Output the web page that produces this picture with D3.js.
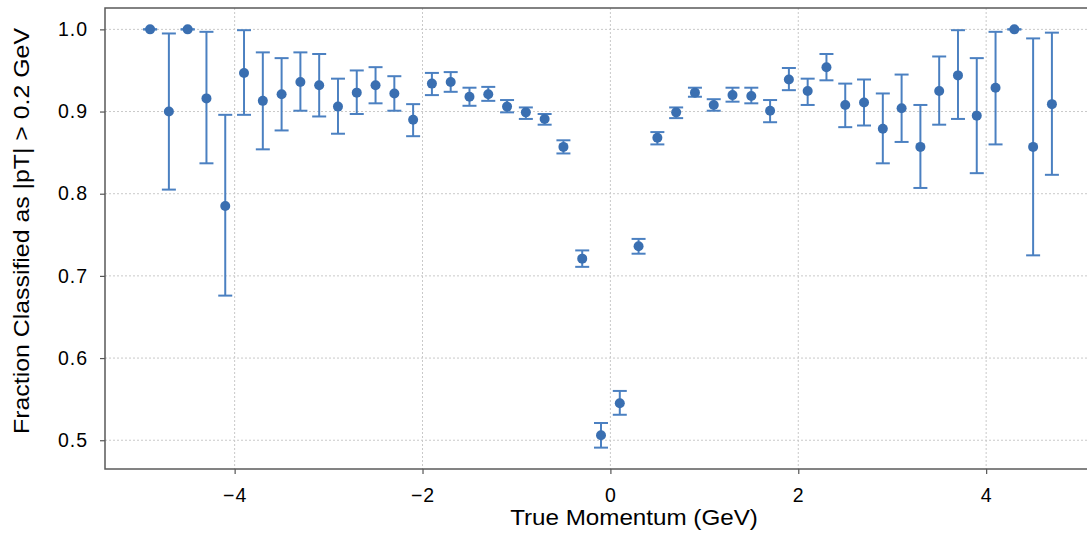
<!DOCTYPE html>
<html>
<head>
<meta charset="utf-8">
<script src="https://cdn.jsdelivr.net/npm/d3@7"></script>
<style>
  html, body { margin: 0; padding: 0; background: #fff; }
  svg { display: block; font-family: "Liberation Sans", Arial, Helvetica, sans-serif; }
</style>
</head>
<body>
<svg id="chart" width="1087" height="534"></svg>
<script>
// ---- data ----
const momentum = [-4.9,-4.7,-4.5,-4.3,-4.1,-3.9,-3.7,-3.5,-3.3,-3.1,-2.9,-2.7,-2.5,-2.3,-2.1,-1.9,-1.7,-1.5,-1.3,-1.1,-0.9,-0.7,-0.5,-0.3,-0.1,
                  0.1,0.3,0.5,0.7,0.9,1.1,1.3,1.5,1.7,1.9,2.1,2.3,2.5,2.7,2.9,3.1,3.3,3.5,3.7,3.9,4.1,4.3,4.5,4.7];
const fraction = [1.000,0.900,1.000,0.916,0.785,0.947,0.913,0.921,0.936,0.932,0.906,0.923,0.932,0.922,0.890,0.934,0.936,0.918,0.921,0.906,0.899,0.891,0.857,0.721,0.506,
                  0.545,0.736,0.868,0.899,0.923,0.908,0.920,0.919,0.901,0.939,0.925,0.954,0.908,0.911,0.879,0.904,0.857,0.925,0.944,0.895,0.929,1.000,0.857,0.909];
const errUpper = [1.000,0.995,1.000,0.997,0.896,0.999,0.972,0.965,0.972,0.970,0.940,0.950,0.954,0.943,0.909,0.947,0.948,0.929,0.930,0.914,0.905,0.897,0.865,0.731,0.521,
                  0.560,0.745,0.875,0.905,0.929,0.915,0.929,0.929,0.914,0.953,0.940,0.970,0.934,0.939,0.922,0.945,0.908,0.967,0.999,0.965,0.997,1.000,0.989,0.996];
const errLower = [1.000,0.805,1.000,0.837,0.676,0.896,0.854,0.877,0.901,0.894,0.873,0.897,0.910,0.901,0.870,0.920,0.924,0.907,0.913,0.899,0.891,0.884,0.849,0.711,0.491,
                  0.531,0.727,0.860,0.892,0.918,0.901,0.912,0.910,0.887,0.926,0.908,0.938,0.881,0.883,0.837,0.863,0.807,0.884,0.891,0.825,0.860,1.000,0.725,0.823];
const xTicks = [-4, -2, 0, 2, 4];
const yTicks = [0.5, 0.6, 0.7, 0.8, 0.9, 1.0];
const xLabel = "True Momentum (GeV)";
const yLabel = "Fraction Classified as |pT| > 0.2 GeV";

const points = momentum.map((m, i) => ({ x: m, y: fraction[i], lo: errLower[i], hi: errUpper[i] }));

// ---- layout ----
const svg = d3.select("#chart");
const plotLeft = 105, plotRight = 1097, plotTop = 8, plotBottom = 469;
const x = d3.scaleLinear().domain([-5.38, 5.18]).range([plotLeft, plotRight]);
const y = d3.scaleLinear().domain([0.465, 1.026]).range([plotBottom, plotTop]);

const dotColor = "#3a6fb1";
const barColor = "#4b80c1";

// grid
const grid = svg.append("g");
grid.selectAll("line.gx").data(xTicks).join("line")
  .attr("x1", d => x(d)).attr("x2", d => x(d)).attr("y1", plotTop).attr("y2", plotBottom)
  .attr("stroke", "#c9c9c9").attr("stroke-width", 1).attr("stroke-dasharray", "2,2");
grid.selectAll("line.gy").data(yTicks).join("line")
  .attr("y1", d => y(d)).attr("y2", d => y(d)).attr("x1", plotLeft).attr("x2", plotRight)
  .attr("stroke", "#c9c9c9").attr("stroke-width", 1).attr("stroke-dasharray", "2,2");

// axes
const xAxis = d3.axisBottom(x).tickValues(xTicks).tickSize(5).tickPadding(14)
  .tickFormat(d => d < 0 ? "\u2212" + Math.abs(d) : String(d));
const yAxis = d3.axisLeft(y).tickValues(yTicks).tickSize(5).tickPadding(12)
  .tickFormat(d3.format(".1f"));

const gx = svg.append("g").attr("transform", `translate(0,${plotBottom})`).call(xAxis);
const gy = svg.append("g").attr("transform", `translate(${plotLeft},0)`).call(yAxis);
[gx, gy].forEach(g => {
  g.select(".domain").remove();
  g.selectAll(".tick line").attr("stroke", "#555").attr("stroke-width", 1.2);
  g.selectAll(".tick text").attr("fill", "#000").style("font-size", "19.5px")
    .style("letter-spacing", "1px")
    .style("font-family", "'Liberation Sans', Arial, sans-serif");
});

// spines
svg.append("rect").attr("x", plotLeft).attr("y", plotTop)
  .attr("width", plotRight - plotLeft).attr("height", plotBottom - plotTop)
  .attr("fill", "none").attr("stroke", "#5a5a5a").attr("stroke-width", 1.5);

// error bars
const eb = svg.append("g");
eb.selectAll("line.v").data(points).join("line")
  .attr("x1", d => x(d.x)).attr("x2", d => x(d.x))
  .attr("y1", d => y(d.hi)).attr("y2", d => y(d.lo))
  .attr("stroke", barColor).attr("stroke-width", 2);
const capW = 7;
eb.selectAll("line.ct").data(points).join("line")
  .attr("x1", d => x(d.x) - capW).attr("x2", d => x(d.x) + capW)
  .attr("y1", d => y(d.hi)).attr("y2", d => y(d.hi))
  .attr("stroke", barColor).attr("stroke-width", 2);
eb.selectAll("line.cb").data(points).join("line")
  .attr("x1", d => x(d.x) - capW).attr("x2", d => x(d.x) + capW)
  .attr("y1", d => y(d.lo)).attr("y2", d => y(d.lo))
  .attr("stroke", barColor).attr("stroke-width", 2);

// points
svg.append("g").selectAll("circle").data(points).join("circle")
  .attr("cx", d => x(d.x)).attr("cy", d => y(d.y)).attr("r", 5)
  .attr("fill", dotColor);

// labels
svg.append("text").attr("transform", "translate(634,525) scale(1.1,1)").attr("text-anchor", "middle")
  .style("font-size", "22px").attr("fill", "#000").text(xLabel);
svg.append("text").attr("transform", "translate(29,231) rotate(-90) scale(1.13,1)").attr("text-anchor", "middle")
  .style("font-size", "22px").attr("fill", "#000").text(yLabel);
</script>
</body>
</html>
